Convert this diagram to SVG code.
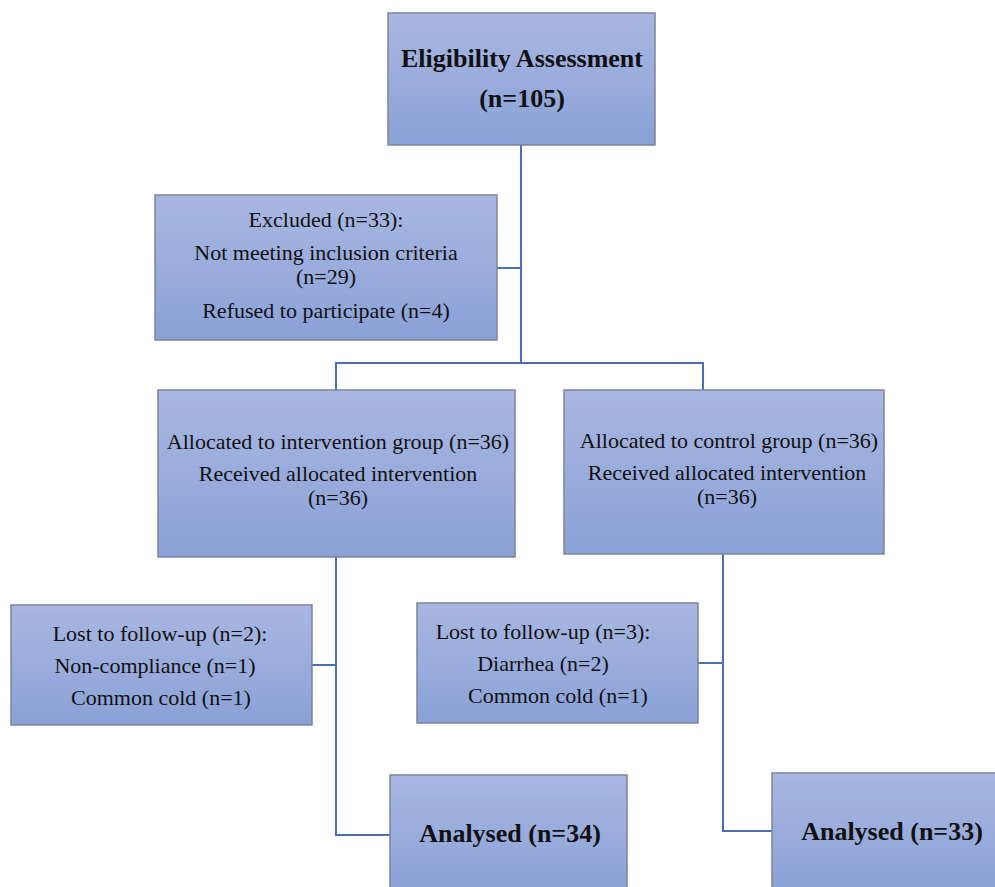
<svg xmlns="http://www.w3.org/2000/svg" width="995" height="887" viewBox="0 0 995 887">
<defs>
<linearGradient id="g" x1="0" y1="0" x2="0" y2="1">
<stop offset="0" stop-color="#a9b7e1"/>
<stop offset="1" stop-color="#8aa1d7"/>
</linearGradient>
<style>
.box{fill:url(#g);stroke:#7d8599;stroke-width:1.5}
.t{font-family:"Liberation Serif","Times New Roman",serif;font-size:22px;fill:#111;text-anchor:middle}
.b{font-family:"Liberation Serif","Times New Roman",serif;font-size:26px;font-weight:bold;fill:#111;text-anchor:middle}
.c{fill:none;stroke:#4a6fb5;stroke-width:2}
</style>
</defs>
<rect width="995" height="887" fill="#fff"/>
<g id="connectors">
<path class="c" d="M521,145 V363"/>
<path class="c" d="M497,268 H521"/>
<path class="c" d="M336,390 V363 H703 V390"/>
<path class="c" d="M336,557 V835 H390"/>
<path class="c" d="M312,665 H336"/>
<path class="c" d="M723,554 V831 H772"/>
<path class="c" d="M698,663 H723"/>
</g>
<g id="eligibility">
<rect class="box" x="388" y="13" width="267" height="132"/>
<text class="b" x="522" y="67">Eligibility Assessment</text>
<text class="b" x="522" y="107">(n=105)</text>
</g>
<g id="excluded">
<rect class="box" x="155" y="195" width="342" height="145"/>
<text class="t" x="326" y="227">Excluded (n=33):</text>
<text class="t" x="326" y="260">Not meeting inclusion criteria</text>
<text class="t" x="326" y="284">(n=29)</text>
<text class="t" x="326" y="318">Refused to participate (n=4)</text>
</g>
<g id="intervention">
<rect class="box" x="158" y="390" width="357" height="167"/>
<text class="t" x="338" y="449">Allocated to intervention group (n=36)</text>
<text class="t" x="338" y="481">Received allocated intervention</text>
<text class="t" x="338" y="505">(n=36)</text>
</g>
<g id="control">
<rect class="box" x="564" y="390" width="320" height="164"/>
<text class="t" x="729" y="448">Allocated to control group (n=36)</text>
<text class="t" x="727" y="480">Received allocated intervention</text>
<text class="t" x="727" y="504">(n=36)</text>
</g>
<g id="lost-intervention">
<rect class="box" x="11" y="605" width="301" height="120"/>
<text class="t" x="160" y="641">Lost to follow-up (n=2):</text>
<text class="t" x="155" y="673">Non-compliance (n=1)</text>
<text class="t" x="161" y="705">Common cold (n=1)</text>
</g>
<g id="lost-control">
<rect class="box" x="417" y="603" width="281" height="120"/>
<text class="t" x="543" y="639">Lost to follow-up (n=3):</text>
<text class="t" x="543" y="671">Diarrhea (n=2)</text>
<text class="t" x="558" y="703">Common cold (n=1)</text>
</g>
<g id="analysed-intervention">
<rect class="box" x="390" y="775" width="237" height="115"/>
<text class="b" x="510" y="842">Analysed (n=34)</text>
</g>
<g id="analysed-control">
<rect class="box" x="772" y="773" width="226" height="117"/>
<text class="b" x="892" y="840">Analysed (n=33)</text>
</g>
</svg>
